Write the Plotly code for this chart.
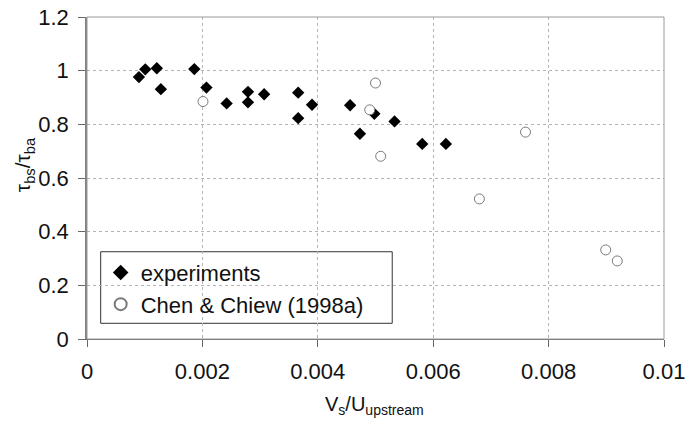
import plotly.graph_objects as go

# Measured bed shear stress ratio vs. settling-velocity ratio
exp_x = [0.00090, 0.00101, 0.00121, 0.00128, 0.00186, 0.00207, 0.00242, 0.00279,
         0.00279, 0.00307, 0.00366, 0.00366, 0.00390, 0.00456, 0.00473, 0.00498,
         0.00533, 0.00581, 0.00622]
exp_y = [0.976, 1.005, 1.009, 0.931, 1.006, 0.937, 0.878, 0.921,
         0.882, 0.912, 0.918, 0.823, 0.873, 0.871, 0.765, 0.839,
         0.811, 0.727, 0.727]

# Chen & Chiew (1998a) data
chen_x = [0.00201, 0.00500, 0.00490, 0.00509, 0.00760, 0.00680, 0.00899, 0.00919]
chen_y = [0.885, 0.954, 0.854, 0.681, 0.771, 0.522, 0.332, 0.291]

x_ticks = [0, 0.002, 0.004, 0.006, 0.008, 0.01]
x_tick_text = ["0", "0.002", "0.004", "0.006", "0.008", "0.01"]
y_ticks = [0, 0.2, 0.4, 0.6, 0.8, 1.0, 1.2]
y_tick_text = ["0", "0.2", "0.4", "0.6", "0.8", "1", "1.2"]

FONT = "Liberation Sans, Arial, sans-serif"
GRID = "#b4b4b4"

fig = go.Figure()
fig.add_trace(go.Scatter(
    x=exp_x, y=exp_y, mode="markers", name="experiments",
    marker=dict(symbol="diamond", size=9.5, color="black", line=dict(width=0)),
))
fig.add_trace(go.Scatter(
    x=chen_x, y=chen_y, mode="markers", name="Chen & Chiew (1998a)",
    marker=dict(symbol="circle", size=10, color="white", line=dict(color="#7a7a7a", width=1)),
))

fig.update_layout(
    width=687, height=423,
    margin=dict(l=87, r=23, t=17, b=84, autoexpand=False),
    paper_bgcolor="white", plot_bgcolor="white",
    font=dict(family=FONT, size=22, color="#111111"),
    showlegend=True,
    legend=dict(
        x=0.0237, y=0.271, xanchor="left", yanchor="top",
        bgcolor="rgba(0,0,0,0)", borderwidth=0,
        font=dict(family=FONT, size=22, color="#111111"),
        itemsizing="constant",
    ),
    xaxis=dict(
        range=[0, 0.01], tickvals=x_ticks, ticktext=x_tick_text,
        showgrid=True, gridcolor=GRID, griddash="3px,3px", gridwidth=1,
        showline=True, linecolor="#666666", linewidth=1,
        ticks="outside", ticklen=7, tickcolor="#666666", tickwidth=1,
        ticklabelstandoff=6, zeroline=False, automargin=False,
        tickfont=dict(family=FONT, size=22, color="#111111"),
    ),
    yaxis=dict(
        range=[0, 1.2], tickvals=y_ticks, ticktext=y_tick_text,
        showgrid=True, gridcolor=GRID, griddash="3px,3px", gridwidth=1,
        showline=True, linecolor="#808080", linewidth=1.5,
        ticks="outside", ticklen=7, tickcolor="#666666", tickwidth=1,
        ticklabelstandoff=5, zeroline=False, automargin=False,
        tickfont=dict(family=FONT, size=22, color="#111111"),
    ),
    shapes=[
        # plot-area frame
        dict(
            type="rect", xref="x domain", yref="y domain", x0=0, x1=1, y0=0, y1=1,
            line=dict(color="#9a9a9a", width=1), layer="above",
        ),
        # legend frame
        dict(
            type="rect", xref="paper", yref="paper",
            x0=0.0237, x1=0.529, y0=0.0488, y1=0.271,
            line=dict(color="#333333", width=1), fillcolor="white", layer="between",
        ),
    ],
    annotations=[
        dict(
            text="V<sub>s</sub>/U<sub>upstream</sub>", xref="paper", yref="paper",
            x=0.499, y=-0.205, xanchor="center", yanchor="middle", showarrow=False,
            font=dict(family=FONT, size=20, color="#111111"),
        ),
        dict(
            text="τ<sub>bs</sub>/τ<sub>ba</sub>", xref="paper", yref="paper",
            x=-0.108, y=0.542, xanchor="center", yanchor="middle", showarrow=False,
            textangle=-90, font=dict(family=FONT, size=21, color="#111111"),
        ),
    ],
)

fig.write_html("out.html")
